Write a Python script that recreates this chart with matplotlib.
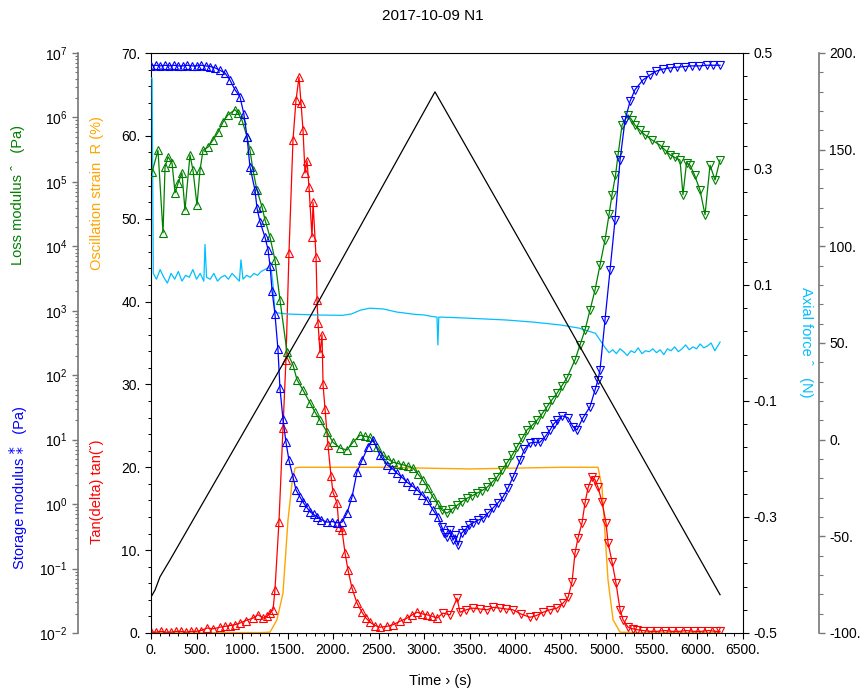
import numpy as np
import matplotlib
matplotlib.use("Agg")
import matplotlib.pyplot as plt
from matplotlib.ticker import MultipleLocator, FuncFormatter, LogLocator

plt.rcParams['font.family'] = ['Liberation Sans', 'DejaVu Sans']

# storage modulus G' (log10 Pa) vs time (s)
blue_t = np.array([0, 50, 100, 150, 200, 250, 300, 350, 400, 450,
                   500, 550, 600, 650, 703, 760, 812, 867, 922, 977,
                   1020, 1054, 1087, 1142, 1164, 1197, 1252, 1285, 1307, 1330,
                   1361, 1394, 1416, 1449, 1482, 1515, 1559, 1592, 1636, 1669,
                   1710, 1746, 1785, 1823, 1870, 1932, 1990, 2042, 2097, 2152,
                   2207, 2262, 2317, 2383, 2438, 2514, 2591, 2650, 2701, 2760,
                   2811, 2870, 2921, 2980, 3031, 3096, 3150, 3195, 3220, 3250,
                   3285, 3316, 3340, 3371, 3410, 3448, 3490, 3536, 3590, 3645,
                   3700, 3755, 3810, 3865, 3920, 3975, 4052, 4100, 4161, 4220,
                   4271, 4330, 4381, 4420, 4458, 4513, 4579, 4634, 4677, 4743,
                   4820, 4875, 4908, 4930, 4985, 5040, 5095, 5150, 5205, 5260,
                   5314, 5400, 5479, 5550, 5620, 5699, 5780, 5860, 5940, 6020,
                   6100, 6170, 6248])
blue_log = np.array([6.80, 6.81, 6.80, 6.81, 6.80, 6.81, 6.80, 6.80, 6.81, 6.80,
                     6.80, 6.81, 6.80, 6.79, 6.77, 6.73, 6.69, 6.58, 6.43, 6.32,
                     6.05, 5.70, 5.23, 4.87, 4.59, 4.38, 4.14, 3.95, 3.70, 3.30,
                     2.95, 2.40, 1.80, 1.32, 0.96, 0.68, 0.42, 0.22, 0.11, 0.03,
                     -0.05, -0.12, -0.16, -0.20, -0.24, -0.28, -0.27, -0.29, -0.28, -0.14,
                     0.11, 0.50, 0.68, 0.89, 1.00, 0.76, 0.61, 0.55, 0.48, 0.41,
                     0.34, 0.28, 0.22, 0.14, 0.06, -0.09, -0.20, -0.36, -0.45, -0.51,
                     -0.40, -0.56, -0.48, -0.64, -0.45, -0.40, -0.33, -0.29, -0.25, -0.22,
                     -0.14, -0.06, 0.02, 0.11, 0.25, 0.42, 0.68, 0.85, 0.95, 0.96,
                     0.96, 1.05, 1.15, 1.24, 1.30, 1.37, 1.34, 1.20, 1.15, 1.34,
                     1.51, 1.77, 1.93, 2.08, 2.86, 3.63, 4.41, 5.34, 5.96, 6.25,
                     6.43, 6.58, 6.66, 6.72, 6.75, 6.77, 6.78, 6.79, 6.80, 6.80,
                     6.81, 6.81, 6.81])

# loss modulus G'' (log10 Pa)
green_t = np.array([11, 77, 132, 154, 187, 231, 264, 297, 340, 373,
                    428, 461, 505, 538, 571, 626, 681, 736, 791, 845,
                    922, 955, 999, 1054, 1087, 1120, 1164, 1219, 1252, 1307,
                    1361, 1416, 1493, 1559, 1603, 1669, 1746, 1800, 1856, 1932,
                    1998, 2075, 2152, 2218, 2295, 2350, 2405, 2481, 2547, 2600,
                    2657, 2710, 2767, 2820, 2877, 2930, 2987, 3040, 3096, 3150,
                    3195, 3250, 3305, 3360, 3415, 3470, 3525, 3580, 3635, 3689,
                    3745, 3799, 3855, 3909, 3965, 4019, 4075, 4128, 4183, 4238,
                    4293, 4348, 4403, 4458, 4513, 4568, 4656, 4710, 4765, 4820,
                    4875, 4930, 4985, 5030, 5062, 5100, 5128, 5172, 5238, 5280,
                    5314, 5370, 5424, 5500, 5589, 5640, 5699, 5750, 5808, 5841,
                    5880, 5918, 5970, 6028, 6083, 6138, 6193, 6248])
green_log = np.array([5.15, 5.49, 4.21, 5.23, 5.39, 5.29, 4.83, 4.98, 5.14, 4.56,
                      5.42, 5.18, 4.64, 5.18, 5.49, 5.54, 5.65, 5.77, 5.93, 6.04,
                      6.12, 6.07, 5.96, 5.70, 5.49, 5.18, 4.87, 4.61, 4.41, 4.14,
                      3.79, 3.17, 2.36, 2.16, 1.93, 1.77, 1.57, 1.43, 1.30, 1.12,
                      0.96, 0.87, 0.84, 0.96, 1.07, 1.05, 1.04, 0.89, 0.76, 0.70,
                      0.65, 0.63, 0.61, 0.59, 0.56, 0.47, 0.37, 0.25, 0.11, 0.00,
                      -0.09, -0.14, -0.08, -0.02, 0.04, 0.09, 0.13, 0.17, 0.21, 0.26,
                      0.34, 0.42, 0.53, 0.64, 0.76, 0.89, 1.02, 1.15, 1.22, 1.30,
                      1.40, 1.51, 1.62, 1.72, 1.84, 1.96, 2.24, 2.47, 2.70, 3.01,
                      3.32, 3.71, 4.10, 4.50, 4.80, 5.10, 5.42, 5.88, 6.04, 5.96,
                      5.88, 5.80, 5.73, 5.65, 5.57, 5.50, 5.42, 5.38, 5.34, 4.80,
                      5.30, 5.26, 5.10, 4.87, 4.49, 5.26, 5.03, 5.34])

# tan(delta)
red_t = np.array([0, 55, 110, 165, 220, 275, 330, 385, 440, 495,
                  550, 615, 680, 758, 810, 867, 920, 977, 1040, 1120,
                  1175, 1230, 1270, 1307, 1340, 1361, 1405, 1449, 1482, 1515,
                  1559, 1592, 1625, 1647, 1669, 1691, 1713, 1735, 1768, 1779,
                  1812, 1823, 1834, 1856, 1878, 1889, 1911, 1943, 1976, 1998,
                  2042, 2064, 2097, 2130, 2163, 2207, 2262, 2317, 2360, 2405,
                  2460, 2514, 2590, 2657, 2730, 2811, 2870, 2921, 2980, 3031,
                  3090, 3140, 3206, 3283, 3360, 3393, 3460, 3536, 3610, 3689,
                  3760, 3832, 3900, 3975, 4060, 4161, 4230, 4304, 4380, 4458,
                  4524, 4579, 4623, 4656, 4689, 4733, 4765, 4798, 4842, 4875,
                  4908, 4952, 4996, 5018, 5062, 5106, 5150, 5183, 5238, 5290,
                  5336, 5400, 5479, 5560, 5640, 5720, 5800, 5880, 5960, 6040,
                  6120, 6200, 6248])
red_v = np.array([0.1, 0.1, 0.2, 0.1, 0.1, 0.2, 0.2, 0.1, 0.2, 0.2,
                  0.3, 0.6, 0.5, 0.7, 0.8, 0.9, 1.0, 1.2, 1.5, 1.8,
                  2.2, 1.8, 2.0, 2.4, 2.8, 5.2, 13.4, 24.7, 33.0, 45.9,
                  59.5, 64.3, 67.1, 64.0, 60.7, 55.5, 57.0, 53.8, 47.8, 52.0,
                  45.4, 40.2, 37.4, 33.8, 36.0, 30.0, 27.0, 22.7, 19.0, 17.0,
                  15.7, 12.8, 12.4, 9.7, 7.6, 5.4, 3.6, 2.5, 1.8, 1.3,
                  0.9, 0.7, 0.8, 1.0, 1.4, 1.8, 2.2, 2.5, 2.3, 2.2,
                  2.0, 1.8, 2.4, 2.2, 4.2, 2.5, 2.8, 3.0, 2.9, 2.8,
                  3.1, 3.0, 2.9, 2.8, 2.3, 1.9, 2.1, 2.5, 2.8, 3.0,
                  3.6, 4.3, 6.2, 9.7, 11.5, 13.3, 15.7, 17.5, 18.8, 18.5,
                  17.6, 15.8, 13.3, 10.9, 8.6, 6.0, 2.8, 1.6, 0.7, 0.5,
                  0.4, 0.3, 0.2, 0.2, 0.3, 0.2, 0.2, 0.3, 0.2, 0.2,
                  0.3, 0.2, 0.2])

# oscillation strain (%)
orange_t = np.array([0, 500, 1000, 1200, 1307, 1383, 1449, 1504, 1548, 1581,
                     1620, 2000, 2500, 3000, 3500, 4000, 4500, 4850, 4908, 4952,
                     4985, 5018, 5073, 5150, 5300, 6248])
orange_v = np.array([0.05, 0.05, 0.05, 0.05, 0.1, 1.6, 4.8, 13.6, 18.1, 19.9,
                     20.0, 20.0, 20.0, 19.9, 19.8, 19.9, 20.0, 20.0, 20.0, 17.6,
                     12.0, 6.4, 1.6, 0.1, 0.05, 0.05])

# black ramp (right inner axis)
black_t = np.array([0, 44, 99, 209, 1746, 3118, 4381, 6248])
black_v = np.array([-0.438, -0.426, -0.403, -0.374, 0.045, 0.433, 0.085, -0.434])

# axial force (N)
cyan_t = np.array([0, 12, 25, 60, 100, 140, 180, 220, 260, 300, 340, 380,
                   420, 460, 500, 540, 580, 593, 610, 650, 690, 730, 770, 810,
                   850, 890, 930, 970, 988, 1010, 1050, 1090, 1130, 1170, 1210, 1250,
                   1290, 1320, 1340, 1361, 1400, 1500, 1800, 2100, 2200, 2300,
                   2400, 2550, 2700, 2900, 3000, 3100, 3140, 3150, 3160, 3300,
                   3500, 3900, 4200, 4500, 4700, 4880, 4930, 4980, 5030, 5070,
                   5110, 5150, 5190, 5230, 5270, 5310, 5350, 5390, 5430, 5470,
                   5510, 5550, 5590, 5630, 5670, 5710, 5750, 5790, 5830, 5870,
                   5910, 5950, 5990, 6030, 6070, 6110, 6150, 6190, 6230, 6248])
cyan_v = np.array([187, 187, 86, 83, 88, 84, 81, 86, 83, 87, 82, 85,
                   84, 88, 83, 86, 82, 101, 84, 83, 86, 82, 84, 85,
                   83, 86, 84, 82, 93, 83, 85, 84, 86, 85, 87, 88,
                   89, 88, 80, 66, 65.5, 65, 64.5, 64.3, 65, 67,
                   68, 67.6, 66, 64.8, 64.5, 63.6, 63.4, 49, 63.4, 63.2,
                   62.8, 61.9, 60.8, 59.3, 57.7, 55, 51.5, 48, 45, 46.5,
                   44.5, 47, 45.5, 43.5, 46, 45, 47.5, 44.5, 46, 45.5,
                   47, 45, 46.5, 44, 47, 46, 48, 45.5, 47, 49,
                   46.5, 48, 47, 49.5, 47.5, 48.5, 50, 46, 49, 50.5])

t_turn = 3150  # up-ramp / down-ramp switch of the markers
PX = 72 / 100  # points per pixel at dpi 100


def plot_updown(axis, t, v, color):
    axis.plot(t, v, color=color, lw=0.9)
    up = t <= t_turn
    axis.plot(t[up], v[up], ls='none', marker='^', ms=6, mew=0.8, mfc='none', mec=color)
    axis.plot(t[~up], v[~up], ls='none', marker='v', ms=6, mew=0.8, mfc='none', mec=color)


fig = plt.figure(figsize=(8.66, 6.93), dpi=100)
ax = fig.add_axes([151 / 866, 60 / 693, 592 / 866, 580 / 693])
ax_f = ax.twinx()
ax_log = ax.twinx()
ax_r = ax.twinx()

gray = '#777777'

# main linear axis (strain, tan delta) + time
ax.set_xlim(0, 6500)
ax.set_ylim(0, 70)
ax.xaxis.set_major_locator(MultipleLocator(500))
ax.xaxis.set_minor_locator(MultipleLocator(100))
ax.yaxis.set_major_locator(MultipleLocator(10))
ax.yaxis.set_minor_locator(MultipleLocator(2))
dotfmt = FuncFormatter(lambda v, p: f"{v:.0f}.")
ax.xaxis.set_major_formatter(dotfmt)
ax.yaxis.set_major_formatter(dotfmt)
ax.tick_params(which='major', length=4, width=0.8, labelsize=10, direction='out')
ax.tick_params(which='minor', length=2.5, width=0.7, direction='out')
ax.spines['right'].set_visible(False)

# log axis (moduli)
ax_log.set_yscale('log')
ax_log.set_ylim(1e-2, 1e7)
ax_log.yaxis.set_major_locator(LogLocator(base=10, numticks=12))
ax_log.yaxis.set_minor_locator(LogLocator(base=10, subs=np.arange(2, 10), numticks=12))
ax_log.yaxis.tick_left()
ax_log.spines['left'].set_position(('outward', 73 * PX))
for s in ['right', 'top', 'bottom']:
    ax_log.spines[s].set_visible(False)
ax_log.spines['left'].set_color(gray)
ax_log.spines['left'].set_linewidth(1.2)
ax_log.tick_params(which='both', colors=gray, labelcolor='black', direction='out')
ax_log.tick_params(which='major', length=4, width=1.0, labelsize=10)
ax_log.tick_params(which='minor', length=2.5, width=0.8)

# inner right axis
ax_r.set_ylim(-0.5, 0.5)
ax_r.yaxis.set_major_locator(MultipleLocator(0.2, offset=0.1))
ax_r.yaxis.set_minor_locator(MultipleLocator(0.04, offset=0.02))
ax_r.yaxis.set_major_formatter(FuncFormatter(lambda v, p: f"{v:.1f}"))
for s in ['left', 'top', 'bottom']:
    ax_r.spines[s].set_visible(False)
ax_r.tick_params(which='major', length=4, width=0.8, labelsize=10, direction='out')
ax_r.tick_params(which='minor', length=3, width=0.7, direction='out')

# outer right axis (axial force)
ax_f.set_ylim(-100, 200)
ax_f.yaxis.set_major_locator(MultipleLocator(50))
ax_f.yaxis.set_minor_locator(MultipleLocator(10))
ax_f.yaxis.set_major_formatter(dotfmt)
ax_f.spines['right'].set_position(('outward', 76 * PX))
for s in ['left', 'top', 'bottom']:
    ax_f.spines[s].set_visible(False)
ax_f.spines['right'].set_color(gray)
ax_f.spines['right'].set_linewidth(1.2)
ax_f.tick_params(which='both', colors=gray, labelcolor='black', direction='out')
ax_f.tick_params(which='major', length=4, width=1.0, labelsize=10)
ax_f.tick_params(which='minor', length=3, width=0.8)

# data
ax_f.plot(cyan_t, cyan_v, color='#00bfff', lw=0.9)
ax.plot(orange_t, orange_v, color='orange', lw=1.0)
plot_updown(ax, red_t, red_v, 'red')
plot_updown(ax_log, green_t, 10 ** green_log, 'green')
plot_updown(ax_log, blue_t, 10 ** blue_log, 'blue')
ax_r.plot(black_t, black_v, color='black', lw=0.9)

# labels
fs = 10.5
fig.text(0.5, 0.977, '2017-10-09 N1', ha='center', va='center', fontsize=11)
fig.text(0.508, 0.017, 'Time \u203a (s)', ha='center', va='center', fontsize=fs)
fig.text(0.021, 0.718, 'Loss modulus \u02c6   (Pa)', rotation=90, ha='center', va='center',
         fontsize=fs, color='green')
fig.text(0.021, 0.296, 'Storage modulus \u2051   (Pa)', rotation=90, ha='center', va='center',
         fontsize=fs, color='blue')
fig.text(0.112, 0.7215, 'Oscillation strain  R (%)', rotation=90, ha='center', va='center',
         fontsize=fs, color='orange')
fig.text(0.112, 0.29, 'Tan(delta) tan(\u02d8)', rotation=90, ha='center', va='center',
         fontsize=fs, color='red')
fig.text(0.9307, 0.5065, 'Axial force \u02c6   (N)', rotation=270, ha='center', va='center',
         fontsize=fs, color='#00bfff')

fig.savefig('out.png', dpi=100)
